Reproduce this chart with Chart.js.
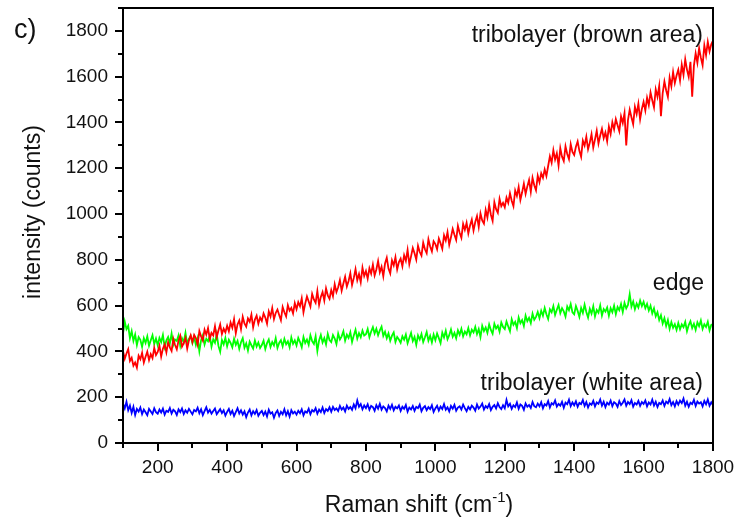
<!DOCTYPE html>
<html>
<head>
<meta charset="utf-8">
<script src="https://cdn.jsdelivr.net/npm/chart.js@4/dist/chart.umd.min.js"></script>
<style>
html,body{margin:0;padding:0;background:#fff;}
#wrap{width:737px;height:520px;position:relative;}
</style>
</head>
<body>
<div id="wrap"><canvas id="c" width="737" height="520"></canvas></div>
<script>
// Raman shift samples: 100 to 1800 cm-1, every 5
const shiftStart = 100, shiftStep = 5;
const xTicks = [200,400,600,800,1000,1200,1400,1600,1800];
const yTicks = [0,200,400,600,800,1000,1200,1400,1600,1800];

// tribolayer (brown area) – one row per 100 cm-1
const brownArea = [
402,368,391,410,358,372,338,352,329,381,366,394,351,377,399,362,388,371,415,384,
398,425,377,412,431,396,440,418,402,455,428,409,447,468,421,436,459,412,448,470,
441,472,458,430,489,466,448,495,473,502,455,481,470,510,462,491,518,476,499,483,
512,488,526,503,541,479,518,535,497,551,522,508,544,530,561,505,539,556,521,548,
533,566,548,521,575,552,589,541,568,583,559,536,594,571,553,602,578,590,566,611,
584,615,597,632,571,609,640,618,596,651,627,612,664,603,638,659,622,675,645,630,
668,641,693,659,680,712,665,697,726,684,708,742,690,721,759,711,738,702,766,729,
751,718,763,740,779,732,758,795,746,770,728,784,809,762,741,798,776,812,758,790,
805,772,820,796,843,781,815,852,829,801,861,834,818,875,846,829,890,858,837,881,
869,846,893,872,848,907,884,921,866,899,935,910,887,948,918,896,957,931,962,915,
950,976,928,965,991,944,1003,972,958,1018,985,1040,997,970,1052,1021,1005,1066,1034,1049,
1030,1072,1049,1091,1058,1034,1103,1079,1118,1062,1095,1133,1088,1121,1149,1097,1158,1126,1104,1167,
1139,1178,1158,1195,1166,1210,1252,1224,1279,1238,1265,1212,1288,1250,1231,1296,1262,1240,1305,1271,
1258,1294,1317,1276,1250,1321,1299,1338,1283,1312,1349,1290,1326,1364,1308,1343,1372,1331,1356,1318,
1382,1349,1401,1370,1415,1388,1362,1427,1398,1441,1300,1410,1456,1423,1392,1468,1437,1482,1414,1459,
1490,1452,1508,1475,1531,1497,1466,1545,1512,1560,1427,1528,1579,1541,1512,1596,1558,1620,1572,1605,
1630,1583,1652,1608,1676,1631,1599,1665,1513,1648,1702,1661,1724,1683,1650,1737,1694,1752,1710,1741,
1758];

// edge
const edge = [
478,531,497,512,458,489,446,474,428,463,451,420,458,437,466,425,449,471,432,456,
427,459,441,472,419,448,463,435,478,429,452,446,470,424,458,440,481,433,455,468,
436,462,428,457,401,449,471,430,455,444,468,421,453,438,476,424,398,450,431,459,
422,451,437,418,455,429,446,411,440,458,416,435,404,443,427,412,448,421,439,415,
428,447,410,436,452,419,441,426,458,415,437,449,422,455,431,444,418,461,433,448,
426,459,441,418,463,437,452,429,470,445,433,466,402,448,472,439,458,431,477,450,
441,471,456,432,478,452,466,488,447,473,459,484,441,470,495,456,480,462,491,469,
475,498,462,487,506,478,499,471,492,508,468,486,458,479,447,469,483,441,463,452,
438,466,451,474,436,459,481,445,463,429,470,452,476,441,462,485,447,468,439,474,
449,478,458,436,482,461,490,453,471,496,464,481,457,492,473,499,466,487,475,502,
470,495,483,507,476,498,463,512,489,505,481,518,494,477,521,500,512,486,526,507,
498,531,509,488,540,516,529,502,548,523,537,511,556,532,547,524,565,538,551,572,
545,578,556,590,562,541,584,571,598,559,582,603,567,589,575,552,596,580,607,571,
562,598,577,551,590,568,604,572,548,586,565,597,553,581,569,601,557,585,574,592,
556,589,571,600,563,594,580,607,572,612,588,603,650,596,618,584,609,592,622,598,
617,589,608,579,600,566,588,553,571,537,558,522,545,511,537,498,528,503,519,494,
524,497,518,506,529,488,515,532,502,521,494,527,510,535,498,519,507,530,492,516,
520];

// tribolayer (white area)
const whiteArea = [
172,151,180,143,163,131,158,122,149,137,155,126,146,134,121,149,138,127,152,135,
128,146,133,150,124,141,136,153,129,145,138,122,147,135,151,127,143,132,149,137,
125,144,138,154,130,147,122,139,156,133,145,128,140,151,126,137,148,131,143,120,
136,149,127,141,118,135,152,129,143,124,138,113,133,146,121,139,127,144,119,132,
140,122,137,116,145,128,134,110,131,142,118,136,125,147,121,139,115,143,129,137,
124,141,130,147,121,138,133,150,126,144,137,152,128,146,135,155,131,148,140,156,
137,158,144,151,140,162,146,155,138,163,149,157,145,168,152,186,158,170,147,164,
152,169,145,162,157,141,165,150,171,146,160,153,138,163,149,167,143,158,151,164,
140,158,149,166,137,155,147,162,141,158,152,168,139,154,161,143,157,148,165,136,
151,163,142,159,148,170,145,156,138,162,150,167,141,155,160,146,168,152,139,158,
147,163,155,141,168,150,159,172,146,161,153,170,144,158,166,151,174,157,148,165,
152,188,160,171,149,165,157,177,150,168,162,145,173,158,166,153,179,161,156,172,
160,178,152,170,164,183,155,174,168,186,159,171,163,180,154,176,169,189,161,177,
165,182,158,175,170,188,162,179,155,173,167,184,160,177,171,190,163,180,157,176,
168,185,161,178,172,158,183,166,176,190,163,179,170,187,159,175,168,184,162,179,
171,186,160,177,168,189,164,180,157,175,170,186,162,181,173,192,165,179,160,183,
168,185,174,194,163,180,158,176,170,189,162,181,172,178,160,184,169,190,163,178,
166];

const labels = {
  brown: 'tribolayer (brown area)',
  edge: 'edge',
  white: 'tribolayer (white area)'
};

function toPoints(arr){ return arr.map((v,i)=>({x: shiftStart + i*shiftStep, y: v})); }

const FONT = '"Liberation Sans", Arial, Helvetica, sans-serif';

const decor = {
  id: 'decor',
  afterDraw(chart){
    const ctx = chart.ctx, a = chart.chartArea;
    const xs = chart.scales.x, ys = chart.scales.y;
    ctx.save();
    ctx.strokeStyle = '#000';
    ctx.lineWidth = 2;
    ctx.strokeRect(a.left, a.top, a.right - a.left, a.bottom - a.top);
    ctx.beginPath();
    xTicks.forEach(v=>{
      const p = Math.round(xs.getPixelForValue(v));
      ctx.moveTo(p, a.bottom); ctx.lineTo(p, a.bottom + 8);
      const m = Math.round(xs.getPixelForValue(v - 100));
      ctx.moveTo(m, a.bottom); ctx.lineTo(m, a.bottom + 5);
    });
    yTicks.forEach(v=>{
      const p = Math.round(ys.getPixelForValue(v));
      ctx.moveTo(a.left, p); ctx.lineTo(a.left - 8, p);
      const m = Math.round(ys.getPixelForValue(v + 100));
      ctx.moveTo(a.left, m); ctx.lineTo(a.left - 5, m);
    });
    ctx.stroke();
    ctx.fillStyle = '#111';
    ctx.font = '27px ' + FONT;
    ctx.textAlign = 'left'; ctx.textBaseline = 'alphabetic';
    ctx.fillText('c)', 14, 38);
    ctx.font = '23px ' + FONT;
    ctx.textAlign = 'right';
    ctx.fillText(labels.brown, 703, 42);
    ctx.fillText(labels.edge, 704, 290);
    ctx.fillText(labels.white, 703, 390);
    // x axis title with superscript
    const t1 = 'Raman shift (cm', sup = '-1', t2 = ')';
    ctx.textAlign = 'left';
    ctx.font = '23px ' + FONT;
    const w1 = ctx.measureText(t1).width, w3 = ctx.measureText(t2).width;
    ctx.font = '15px ' + FONT;
    const w2 = ctx.measureText(sup).width;
    const x0 = 419 - (w1 + w2 + w3)/2;
    ctx.font = '23px ' + FONT;
    ctx.fillText(t1, x0, 512);
    ctx.font = '15px ' + FONT;
    ctx.fillText(sup, x0 + w1, 502);
    ctx.font = '23px ' + FONT;
    ctx.fillText(t2, x0 + w1 + w2, 512);
    // y title
    ctx.translate(40, 212);
    ctx.rotate(-Math.PI/2);
    ctx.textAlign = 'center';
    ctx.fillText('intensity (counts)', 0, 0);
    ctx.restore();
  }
};

new Chart(document.getElementById('c'), {
  type: 'line',
  data: {
    datasets: [
      {label: labels.brown, data: toPoints(brownArea), borderColor: '#ff0000', borderWidth: 1.8},
      {label: labels.edge, data: toPoints(edge), borderColor: '#00ff00', borderWidth: 1.8},
      {label: labels.white, data: toPoints(whiteArea), borderColor: '#0000ff', borderWidth: 1.8}
    ]
  },
  options: {
    responsive: false,
    animation: false,
    devicePixelRatio: 1,
    layout: {padding: {top: 8, right: 24, left: 0, bottom: 0}},
    elements: {point: {radius: 0}, line: {tension: 0}},
    plugins: {legend: {display: false}, tooltip: {enabled: false}},
    scales: {
      x: {
        type: 'linear', min: 100, max: 1800,
        afterBuildTicks: s => { s.ticks = xTicks.map(v => ({value: v})); },
        afterFit: s => { s.height = 77; s.paddingLeft = 0; s.paddingRight = 0; },
        grid: {display: true, drawOnChartArea: false, drawTicks: false},
        border: {display: false},
        ticks: {color: '#111', padding: 13, maxRotation: 0, autoSkip: false,
                font: {size: 19, family: FONT}, callback: v => String(v)}
      },
      y: {
        type: 'linear', min: 0, max: 1900,
        afterBuildTicks: s => { s.ticks = yTicks.map(v => ({value: v})); },
        afterFit: s => { s.width = 123; s.paddingTop = 0; s.paddingBottom = 0; },
        grid: {display: true, drawOnChartArea: false, drawTicks: false},
        border: {display: false},
        ticks: {color: '#111', padding: 15, autoSkip: false,
                font: {size: 19, family: FONT}, callback: v => String(v)}
      }
    }
  },
  plugins: [decor]
});
</script>
</body>
</html>
